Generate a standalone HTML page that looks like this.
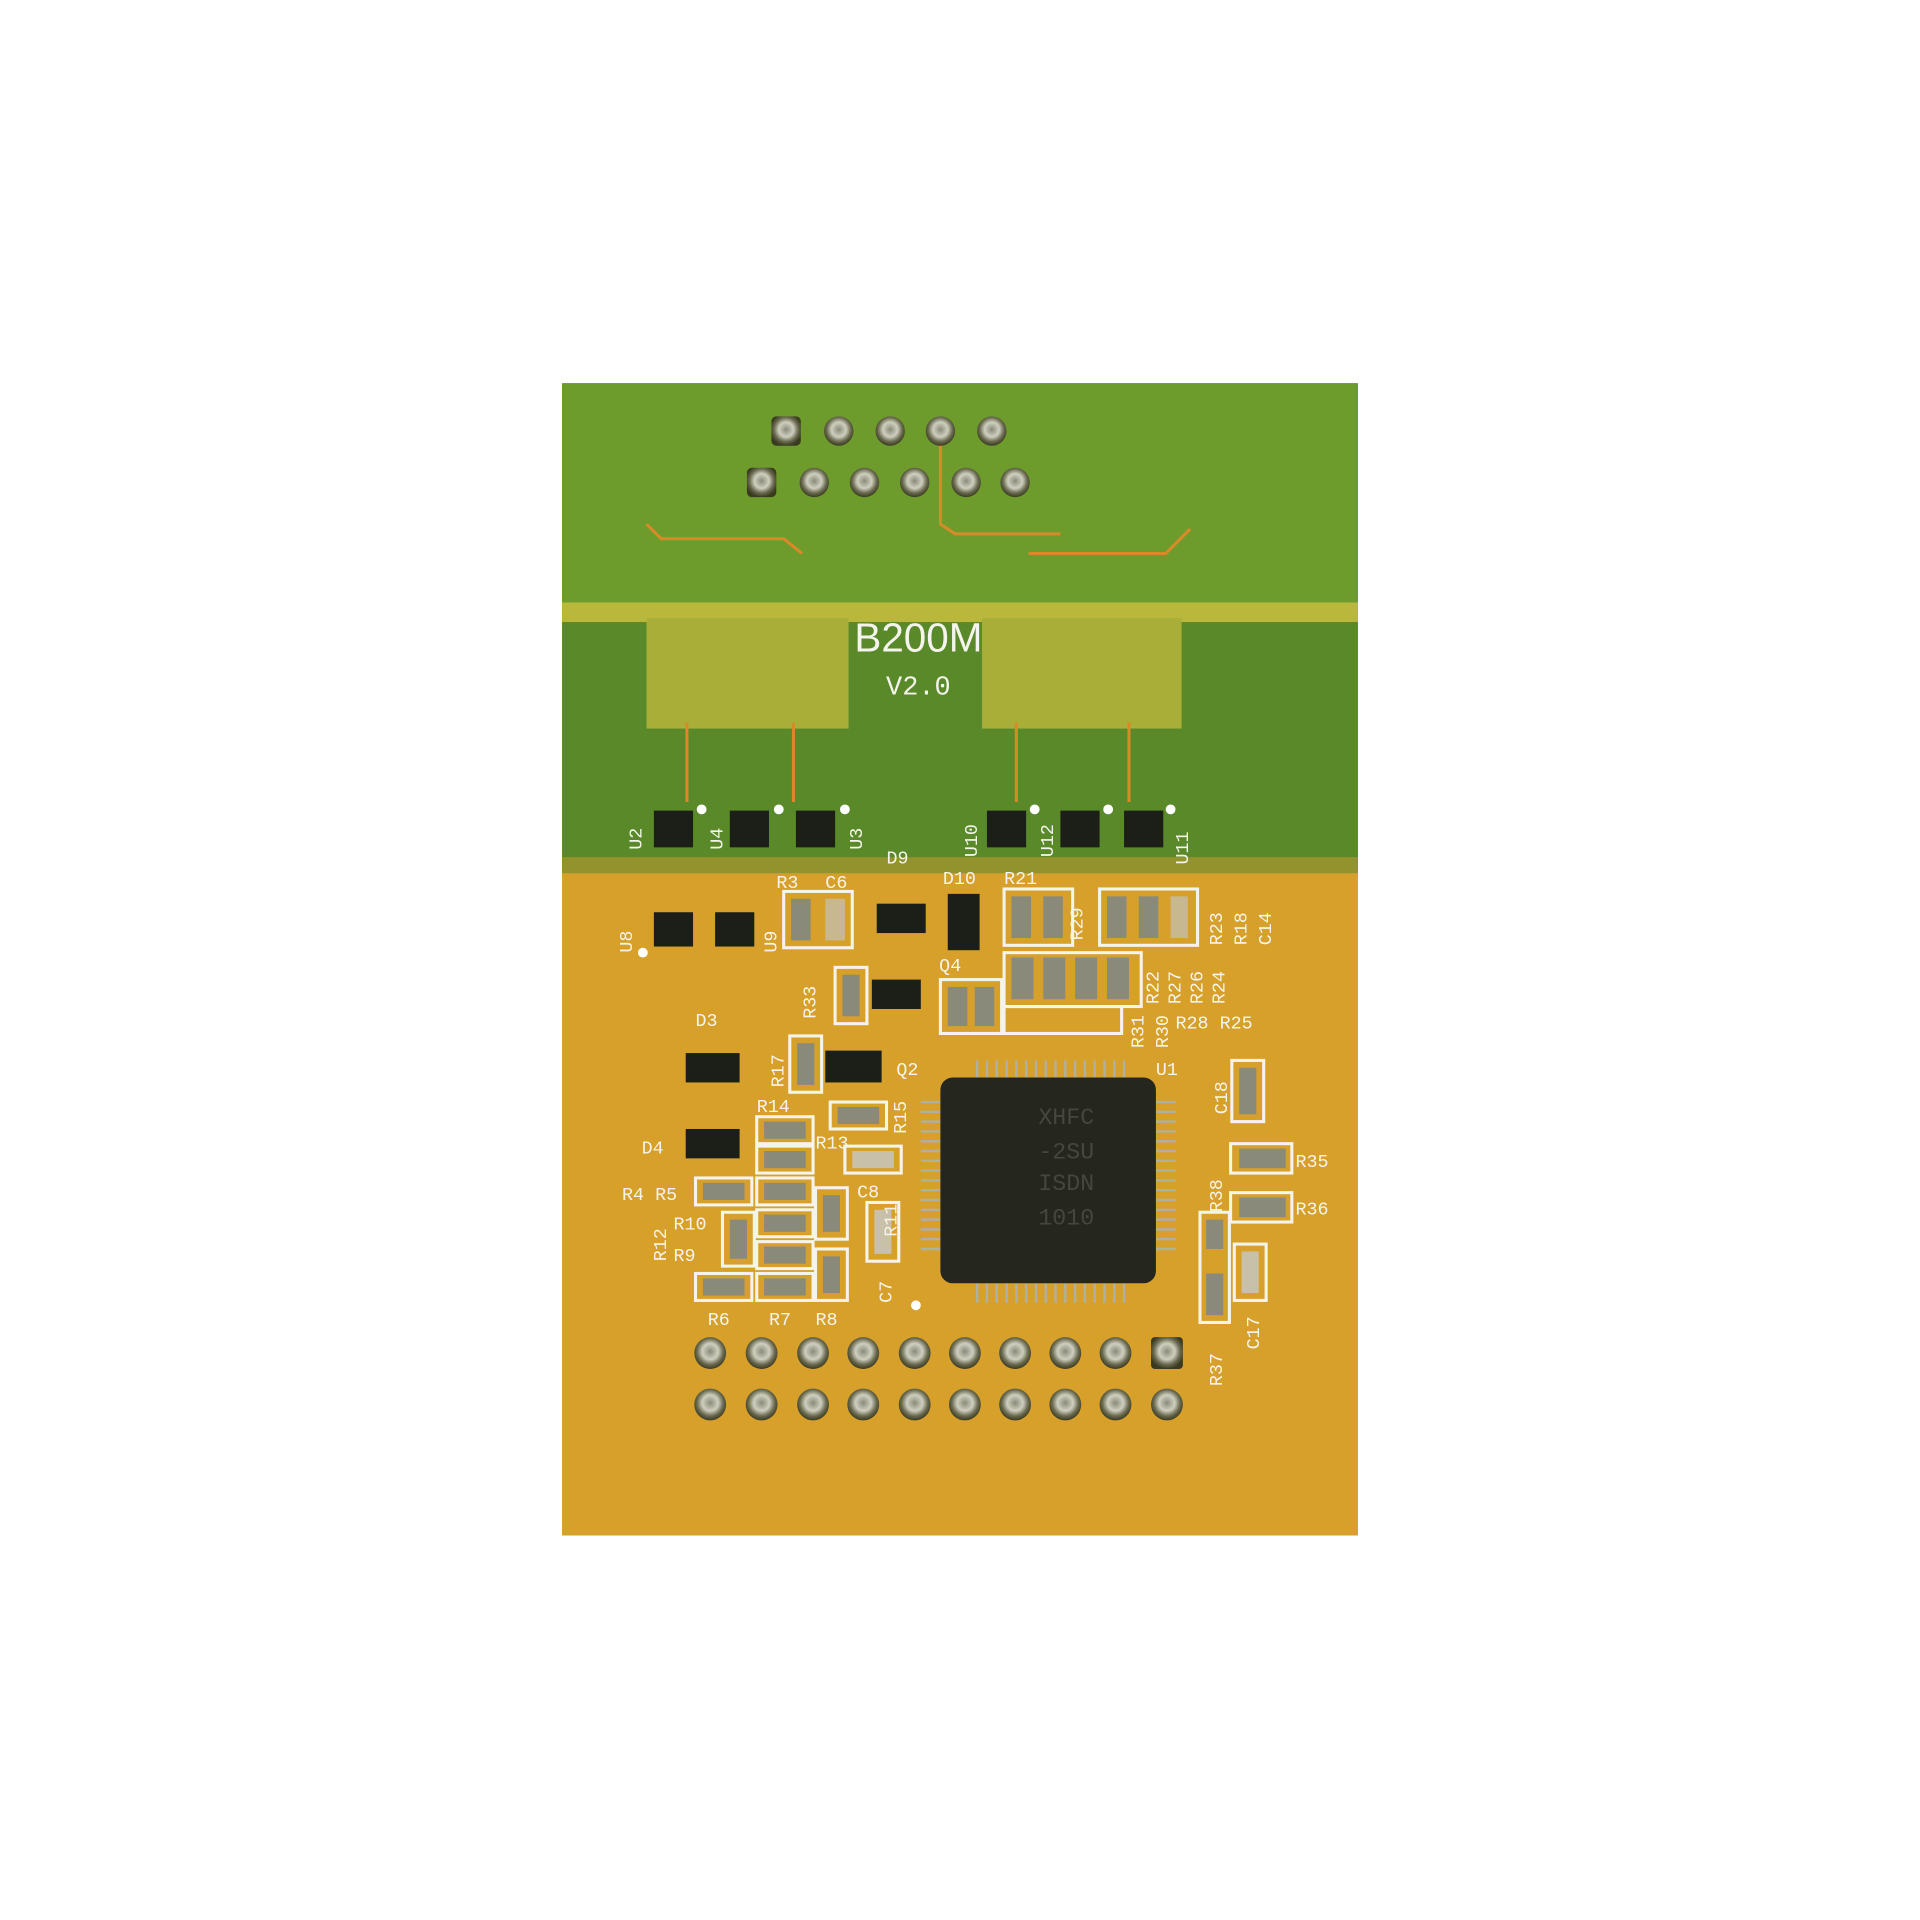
<!DOCTYPE html>
<html><head><meta charset="utf-8"><style>
html,body{margin:0;padding:0;background:#fff;width:1920px;height:1920px;overflow:hidden}
svg{display:block}
text{font-family:"Liberation Mono","DejaVu Sans Mono",monospace;fill:#f4f4ec}
text.chip{fill:#45473d}
</style></head><body>
<svg width="1920" height="1920" viewBox="0 0 1568 1568" xmlns="http://www.w3.org/2000/svg">
<defs>
<radialGradient id="pin" cx="50%" cy="45%" r="55%"><stop offset="0" stop-color="#8a8a78"/><stop offset=".45" stop-color="#cfcfc0"/><stop offset=".75" stop-color="#6a6a50"/><stop offset="1" stop-color="#3a3a20"/></radialGradient>
</defs>
<rect width="1568" height="1568" fill="#fff"/>
<rect x="459" y="313" width="650" height="941" fill="#d7a02b"/>
<rect x="459" y="313" width="650" height="400" fill="#5a892a"/>
<rect x="459" y="313" width="650" height="180" fill="#6d9c2c"/>
<rect x="459" y="492" width="650" height="16" fill="#b9b83c"/>
<rect x="528" y="505" width="165" height="90" fill="#a9ae38"/>
<rect x="802" y="505" width="163" height="90" fill="#a9ae38"/>
<rect x="459" y="700" width="650" height="14" fill="#b79a30" opacity=".6"/>
<g stroke="#d98a28" stroke-width="2.5" fill="none">
<polyline points="528,428 540,440 640,440 655,452"/>
<polyline points="768,358 768,428 780,436 866,436"/>
<polyline points="840,452 952,452 972,432"/>
<line x1="561" y1="590" x2="561" y2="655"/><line x1="648" y1="590" x2="648" y2="655"/>
<line x1="830" y1="590" x2="830" y2="655"/><line x1="922" y1="590" x2="922" y2="655"/>
</g>
<g fill="url(#pin)">
<rect x="630" y="340" width="24" height="24" rx="4"/>
<circle cx="685" cy="352" r="12"/><circle cx="727" cy="352" r="12"/><circle cx="768" cy="352" r="12"/><circle cx="810" cy="352" r="12"/>
<rect x="610" y="382" width="24" height="24" rx="4"/>
<circle cx="665" cy="394" r="12"/><circle cx="706" cy="394" r="12"/><circle cx="747" cy="394" r="12"/><circle cx="789" cy="394" r="12"/><circle cx="829" cy="394" r="12"/>
</g>
<text x="750" y="532" font-size="33" text-anchor="middle" style="font-family:'Liberation Sans',sans-serif">B200M</text>
<text x="750" y="567" font-size="22" text-anchor="middle">V2.0</text>
<g fill="#1c1e18">
<rect x="534" y="662" width="32" height="30"/><rect x="596" y="662" width="32" height="30"/><rect x="650" y="662" width="32" height="30"/>
<rect x="806" y="662" width="32" height="30"/><rect x="866" y="662" width="32" height="30"/><rect x="918" y="662" width="32" height="30"/>
<rect x="534" y="745" width="32" height="28"/><rect x="584" y="745" width="32" height="28"/>
<rect x="716" y="738" width="40" height="24"/><rect x="774" y="730" width="26" height="46"/>
<rect x="712" y="800" width="40" height="24"/><rect x="674" y="858" width="46" height="26"/>
<rect x="560" y="860" width="44" height="24"/><rect x="560" y="922" width="44" height="24"/>
</g>
<g fill="#fff"><circle cx="573" cy="661" r="4"/><circle cx="636" cy="661" r="4"/><circle cx="690" cy="661" r="4"/><circle cx="845" cy="661" r="4"/><circle cx="905" cy="661" r="4"/><circle cx="956" cy="661" r="4"/><circle cx="525" cy="778" r="4"/><circle cx="748" cy="1066" r="4"/></g>
<g fill="none" stroke="#f4f4ec" stroke-width="2.5">
<rect x="640" y="728" width="56" height="46"/><rect x="820" y="726" width="56" height="46"/><rect x="898" y="726" width="80" height="46"/>
<rect x="820" y="778" width="112" height="44"/><rect x="768" y="800" width="50" height="44"/><rect x="820" y="822" width="96" height="22"/>
<rect x="682" y="790" width="26" height="46"/><rect x="645" y="846" width="26" height="46"/>
<rect x="618" y="912" width="46" height="22"/><rect x="618" y="936" width="46" height="22"/><rect x="618" y="962" width="46" height="22"/><rect x="618" y="988" width="46" height="22"/><rect x="618" y="1014" width="46" height="22"/><rect x="618" y="1040" width="46" height="22"/>
<rect x="568" y="962" width="46" height="22"/><rect x="568" y="1040" width="46" height="22"/><rect x="590" y="990" width="26" height="44"/>
<rect x="666" y="970" width="26" height="42"/><rect x="666" y="1020" width="26" height="42"/><rect x="678" y="900" width="46" height="22"/><rect x="690" y="936" width="46" height="22"/><rect x="708" y="982" width="26" height="48"/>
<rect x="1006" y="866" width="26" height="50"/><rect x="1005" y="934" width="50" height="24"/><rect x="1005" y="974" width="50" height="24"/>
<rect x="980" y="990" width="24" height="90"/><rect x="1008" y="1016" width="26" height="46"/>
</g>
<g fill="#8a8a7a">
<rect x="646" y="734" width="16" height="34"/><rect x="674" y="734" width="16" height="34" fill="#c8b890"/>
<rect x="826" y="732" width="16" height="34"/><rect x="852" y="732" width="16" height="34"/><rect x="904" y="732" width="16" height="34"/><rect x="930" y="732" width="16" height="34"/><rect x="956" y="732" width="14" height="34" fill="#c8b890"/>
<rect x="826" y="782" width="18" height="34"/><rect x="852" y="782" width="18" height="34"/><rect x="878" y="782" width="18" height="34"/><rect x="904" y="782" width="18" height="34"/>
<rect x="774" y="806" width="16" height="32"/><rect x="796" y="806" width="16" height="32"/>
<rect x="688" y="796" width="14" height="34"/><rect x="651" y="852" width="14" height="34"/>
<rect x="624" y="916" width="34" height="14"/><rect x="624" y="940" width="34" height="14"/><rect x="624" y="966" width="34" height="14"/><rect x="624" y="992" width="34" height="14"/><rect x="624" y="1018" width="34" height="14"/><rect x="624" y="1044" width="34" height="14"/>
<rect x="574" y="966" width="34" height="14"/><rect x="574" y="1044" width="34" height="14"/><rect x="596" y="996" width="14" height="32"/>
<rect x="672" y="976" width="14" height="30"/><rect x="672" y="1026" width="14" height="30"/><rect x="684" y="904" width="34" height="14"/><rect x="696" y="940" width="34" height="14" fill="#c8c0a8"/><rect x="714" y="988" width="14" height="36" fill="#c8c0a8"/>
<rect x="1012" y="872" width="14" height="38"/><rect x="1012" y="938" width="38" height="16"/><rect x="1012" y="978" width="38" height="16"/>
<rect x="985" y="996" width="14" height="24"/><rect x="985" y="1040" width="14" height="34"/><rect x="1014" y="1022" width="14" height="34" fill="#c8c0a8"/>
</g>
<g stroke="#b0b0a0" stroke-width="2">
<path d="M798 866 V880 M806 866 V880 M814 866 V880 M822 866 V880 M830 866 V880 M838 866 V880 M846 866 V880 M854 866 V880 M862 866 V880 M870 866 V880 M878 866 V880 M886 866 V880 M894 866 V880 M902 866 V880 M910 866 V880 M918 866 V880"/>
<path d="M798 1048 V1064 M806 1048 V1064 M814 1048 V1064 M822 1048 V1064 M830 1048 V1064 M838 1048 V1064 M846 1048 V1064 M854 1048 V1064 M862 1048 V1064 M870 1048 V1064 M878 1048 V1064 M886 1048 V1064 M894 1048 V1064 M902 1048 V1064 M910 1048 V1064 M918 1048 V1064"/>
<path d="M752 900 H768 M752 908 H768 M752 916 H768 M752 924 H768 M752 932 H768 M752 940 H768 M752 948 H768 M752 956 H768 M752 964 H768 M752 972 H768 M752 980 H768 M752 988 H768 M752 996 H768 M752 1004 H768 M752 1012 H768 M752 1020 H768"/>
<path d="M944 900 H960 M944 908 H960 M944 916 H960 M944 924 H960 M944 932 H960 M944 940 H960 M944 948 H960 M944 956 H960 M944 964 H960 M944 972 H960 M944 980 H960 M944 988 H960 M944 996 H960 M944 1004 H960 M944 1012 H960 M944 1020 H960"/>
</g>
<rect x="768" y="880" width="176" height="168" rx="10" fill="#25271f"/>
<g font-size="19"><text class="chip" x="848" y="918">XHFC</text><text class="chip" x="848" y="946">-2SU</text><text class="chip" x="848" y="972">ISDN</text><text class="chip" x="848" y="1000">1010</text></g>
<g fill="url(#pin)">
<circle cx="580" cy="1105" r="13"/><circle cx="622" cy="1105" r="13"/><circle cx="664" cy="1105" r="13"/><circle cx="705" cy="1105" r="13"/><circle cx="747" cy="1105" r="13"/><circle cx="788" cy="1105" r="13"/><circle cx="829" cy="1105" r="13"/><circle cx="870" cy="1105" r="13"/><circle cx="911" cy="1105" r="13"/><rect x="940" y="1092" width="26" height="26" rx="3"/>
<circle cx="580" cy="1147" r="13"/><circle cx="622" cy="1147" r="13"/><circle cx="664" cy="1147" r="13"/><circle cx="705" cy="1147" r="13"/><circle cx="747" cy="1147" r="13"/><circle cx="788" cy="1147" r="13"/><circle cx="829" cy="1147" r="13"/><circle cx="870" cy="1147" r="13"/><circle cx="911" cy="1147" r="13"/><circle cx="953" cy="1147" r="13"/>
</g>
<g font-size="15">
<text x="634" y="725">R3</text><text x="674" y="725">C6</text><text x="724" y="705">D9</text><text x="770" y="722">D10</text><text x="820" y="722">R21</text>
<text x="767" y="793">Q4</text><text x="568" y="838">D3</text><text x="732" y="878">Q2</text><text x="944" y="878">U1</text>
<text x="618" y="908">R14</text><text x="666" y="938">R13</text><text x="700" y="978">C8</text><text x="524" y="942">D4</text>
<text x="508" y="980">R4 R5</text><text x="550" y="1004">R10</text><text x="550" y="1030">R9</text><text x="578" y="1082">R6</text><text x="628" y="1082">R7</text><text x="666" y="1082">R8</text>
<text x="960" y="840">R28 R25</text><text x="1058" y="953">R35</text><text x="1058" y="992">R36</text>
</g>
<g font-size="15">
<text transform="translate(524,694) rotate(-90)">U2</text><text transform="translate(590,694) rotate(-90)">U4</text><text transform="translate(704,694) rotate(-90)">U3</text>
<text transform="translate(798,700) rotate(-90)">U10</text><text transform="translate(860,700) rotate(-90)">U12</text><text transform="translate(970,706) rotate(-90)">U11</text>
<text transform="translate(516,778) rotate(-90)">U8</text><text transform="translate(634,778) rotate(-90)">U9</text>
<text transform="translate(666,832) rotate(-90)">R33</text><text transform="translate(640,888) rotate(-90)">R17</text><text transform="translate(740,926) rotate(-90)">R15</text>
<text transform="translate(884,768) rotate(-90)">R29</text><text transform="translate(998,772) rotate(-90)">R23</text><text transform="translate(1018,772) rotate(-90)">R18</text><text transform="translate(1038,772) rotate(-90)">C14</text>
<text transform="translate(946,820) rotate(-90)">R22</text><text transform="translate(964,820) rotate(-90)">R27</text><text transform="translate(982,820) rotate(-90)">R26</text><text transform="translate(1000,820) rotate(-90)">R24</text>
<text transform="translate(934,856) rotate(-90)">R31</text><text transform="translate(954,856) rotate(-90)">R30</text>
<text transform="translate(1002,910) rotate(-90)">C18</text><text transform="translate(998,990) rotate(-90)">R38</text><text transform="translate(544,1030) rotate(-90)">R12</text>
<text transform="translate(732,1010) rotate(-90)">R11</text><text transform="translate(728,1064) rotate(-90)">C7</text><text transform="translate(1028,1102) rotate(-90)">C17</text><text transform="translate(998,1132) rotate(-90)">R37</text>
</g>
</svg>
</body></html>
